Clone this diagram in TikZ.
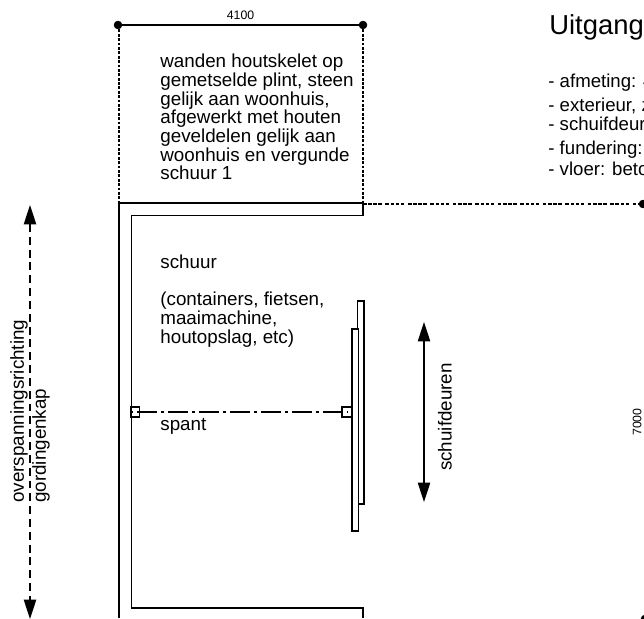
\documentclass[tikz,border=0pt]{standalone}
\usepackage{fontspec}
\setmainfont{Liberation Sans}
\usetikzlibrary{arrows.meta}

\tikzset{
  wand/.style={line width=1pt, line join=miter},
  maatlijn/.style={line width=1pt},
  stippel/.style={line width=0.85pt, dash pattern=on 1.6pt off 0.9pt},
  stippelgroep/.style={line width=0.85pt, dash pattern=on 2pt off 0.9pt on 2pt off 0.9pt on 2pt off 0.9pt on 2pt off 2.1pt},
  pijl/.style={line width=0.75pt, {Triangle[length=11pt,width=7pt]}-{Triangle[length=11pt,width=7pt]}},
  tekst/.style={anchor=north west, inner sep=0pt, align=left, font=\fontsize{10.7}{10.6}\selectfont},
  regel/.style={anchor=base west, inner sep=0pt, font=\fontsize{10.6}{11}\selectfont},
  maat/.style={inner sep=0pt, font=\fontsize{7}{8}\selectfont},
  spantblok/.style={draw, line width=0.8pt, minimum width=4.8pt, minimum height=5.6pt, inner sep=0pt}
}

\begin{document}
\begin{tikzpicture}[x=0.02cm, y=-0.02cm]
  \useasboundingbox (0,0) rectangle (644,618);

  \filldraw [black] (118,25) circle (2.2pt);
  \filldraw [black] (363,25) circle (2.2pt);
  \filldraw [black] (643,204) circle (2.2pt);
  \filldraw [black] (645,619) circle (2.2pt);
  \node (maatlinks) at (118,25) {};
  \node (maatrechts) at (363,25) {};
  \coordinate (hoeklinks) at (119,203);
  \coordinate (hoekrechts) at (363,203);
  \coordinate (maatoost) at (643,204);

  \draw [maatlijn] (118,25) -- node[maat, above=2.5pt] {4100} (363,25);
  \draw [stippel] (119,25) -- (hoeklinks);
  \draw [stippel] (363,25) -- (hoekrechts);
  \draw [stippelgroep] (363,204) -- (maatoost);

  \draw [wand] (119,618) -- (hoeklinks) -- (hoekrechts) -- (363,215.5) -- (131.5,215.5) -- (131.5,608) -- (363,608) -- (363,618);

  \draw [wand] (357.5,301) rectangle (364,504);
  \draw [wand, fill=white] (352,329) rectangle (358.5,531);

  \node [spantblok] (spantlinks) at (135,412) {};
  \node [spantblok, minimum width=5.6pt] (spantrechts) at (347,412) {};
  \draw [line width=0.6pt, dash pattern=on 11.3pt off 2.3pt on 1.7pt off 2.3pt, dash phase=-4pt] (spantlinks.west) -- (spantrechts.center);

  \coordinate (pijlboven) at (30,205);
  \coordinate (pijlonder) at (30,619);
  \draw [pijl, dashed, dash pattern=on 4.5pt off 2.8pt] (pijlboven) -- (pijlonder);
  \coordinate (deurboven) at (424,322);
  \coordinate (deuronder) at (424,502);
  \draw [pijl] (deurboven) -- (deuronder);

  \node [tekst] (wanden) at (160,54) {wanden houtskelet op\\gemetselde plint, steen\\gelijk aan woonhuis,\\afgewerkt met houten\\geveldelen gelijk aan\\woonhuis en vergunde\\schuur 1};
  \node [tekst] (schuur) at (160,255) {schuur};
  \node [tekst] (gebruik) at (160,292) {(containers, fietsen,\\maaimachine,\\houtopslag, etc)};
  \node [tekst] (spant) at (160,418) {spant};

  \node [tekst, anchor=west, rotate=90] (richting) at (19,503) {overspanningsrichting};
  \node [tekst, anchor=west, rotate=90] (kap) at (41,503) {gordingenkap};
  \node [tekst, anchor=center, rotate=90] (deuren) at (445,417) {schuifdeuren};
  \node [maat, rotate=90] (maatzeven) at (637,422) {7000};

  \node [anchor=base west, inner sep=0pt, font=\fontsize{15.6}{17}\selectfont] (titel) at (549,35) {Uitgang};
  \node [regel] (afmeting) at (548,88) {- afmeting: 4};
  \node [regel] (exterieur) at (548,112) {- exterieur, z};
  \node [regel] (schuifdeur) at (548,131) {- schuifdeur};
  \node [regel] (fundering) at (548,154) {- fundering:};
  \node [regel] (vloer) at (548,175) {- vloer: beto};
\end{tikzpicture}
\end{document}
